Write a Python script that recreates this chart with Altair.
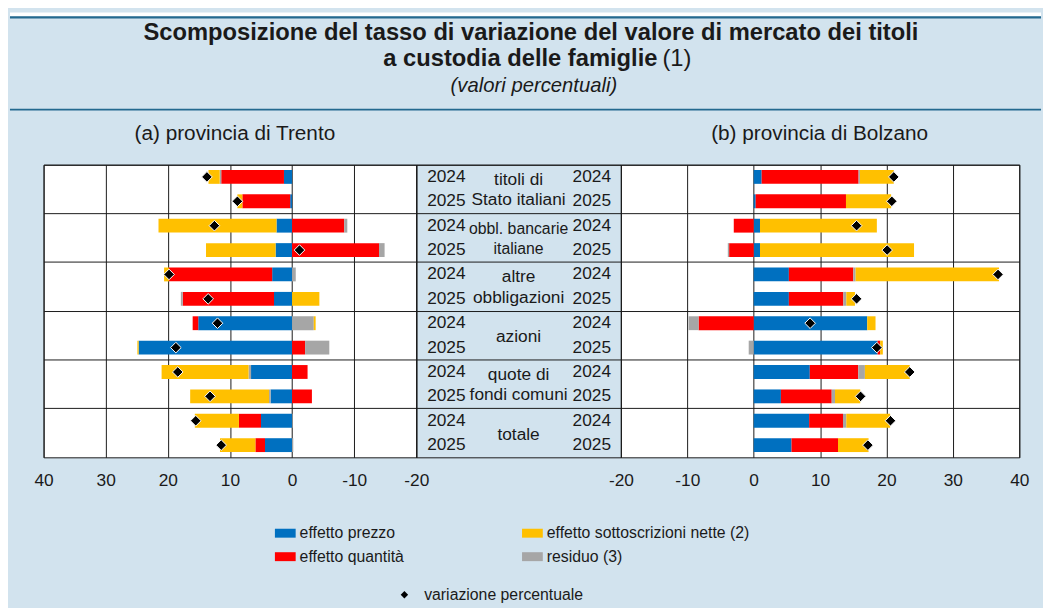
import altair as alt
import pandas as pd

# ---------------- data ----------------
groups = ["titoli di Stato italiani", "obbl. bancarie italiane", "altre obbligazioni",
          "azioni", "quote di fondi comuni", "totale"]
label_line1 = ["titoli di", "obbl. bancarie", "altre", "azioni", "quote di", "totale"]
label_line2 = ["Stato italiani", "italiane", "obbligazioni", "", "fondi comuni", ""]
group_font = [17.5, 16, 17.5, 17.5, 17.5, 17.5]
years = ["2024", "2025"]

# stacking order (from zero outwards)
stack_components = ["effetto prezzo", "effetto quantità", "residuo (3)", "effetto sottoscrizioni nette (2)"]
# legend order (2 columns, filled column-wise)
legend_domain = ["effetto prezzo", "effetto quantità", "effetto sottoscrizioni nette (2)", "residuo (3)"]
legend_colors = ["#0070c0", "#ff0000", "#ffc000", "#a6a6a6"]

# rows: group x year (2024, 2025)
trento_prezzo = [1.3, 0.3, 2.5, 2.65, 3.2, 2.9, 15.1, 24.7, 6.6, 3.45, 5.0, 4.35]
trento_quantita = [10.1, 7.7, -8.4, -14.0, 16.6, 14.7, 0.9, -2.1, -2.5, -3.2, 3.55, 1.55]
trento_residuo = [0.25, 0.0, -0.5, -0.9, -0.6, 0.3, -3.5, -3.9, 0.4, 0.25, -0.1, -0.2]
trento_sottoscrizioni = [1.8, 0.8, 19.0, 11.2, 0.8, -4.4, -0.3, 0.2, 14.0, 12.7, 7.1, 5.7]
trento_variazione = [13.7, 8.8, 12.5, -1.2, 19.8, 13.5, 12.0, 18.7, 18.4, 13.2, 15.5, 11.4]

bolzano_prezzo = [1.2, 0.3, 0.95, 0.95, 5.3, 5.3, 17.1, 18.65, 8.45, 4.1, 8.35, 5.7]
bolzano_quantita = [14.6, 13.6, -3.0, -3.7, 9.7, 8.2, -8.3, 0.4, 7.3, 7.65, 5.1, 7.0]
bolzano_residuo = [0.2, 0.0, 0.0, -0.2, 0.35, 0.45, -1.5, -0.75, 1.0, 0.5, 0.5, 0.0]
bolzano_sottoscrizioni = [5.1, 6.8, 17.6, 23.2, 21.6, 1.3, 1.25, 0.4, 6.75, 3.8, 6.6, 4.6]
bolzano_variazione = [21.1, 20.8, 15.5, 20.1, 36.8, 15.5, 8.5, 18.55, 23.5, 16.1, 20.6, 17.2]

x_ticks = [-20, -10, 0, 10, 20, 30, 40]

title_line1 = "Scomposizione del tasso di variazione del valore di mercato dei titoli"
title_line2_bold = "a custodia delle famiglie"
title_line2_note = "(1)"
title_line3 = "(valori percentuali)"
sub_a = "(a) provincia di Trento"
sub_b = "(b) provincia di Bolzano"
diamond_label = "variazione percentuale"

# ---------------- styling ----------------
FONT = "Liberation Sans"
TXT = "#1a1a1a"
BG = "#d2e3ee"
LINE_BLUE = "#23698f"
GRID = "#1a1a1a"

W_SPACER, W_LEFT, W_MID, W_RIGHT = 34, 377, 207, 403
H_BODY = 296
W_ALL = 1043
H_HEAD = 154


def long_bars(series_list):
    rows = []
    for i, g in enumerate(groups):
        for j, yr in enumerate(years):
            k = 2 * i + j
            for o, (comp, ser) in enumerate(zip(stack_components, series_list)):
                v = ser[k]
                if v != 0:
                    rows.append({"group": g, "year": yr, "comp": comp, "value": v, "ord": o})
    return pd.DataFrame(rows)


def points(var):
    rows = []
    for i, g in enumerate(groups):
        for j, yr in enumerate(years):
            rows.append({"group": g, "year": yr, "var": var[2 * i + j], "lbl": diamond_label})
    return pd.DataFrame(rows)


y_enc = alt.Y("group:N", sort=groups, title=None,
              scale=alt.Scale(domain=groups, paddingInner=0, paddingOuter=0),
              axis=alt.Axis(grid=True, gridColor=GRID, gridWidth=1, labels=False, ticks=False,
                            domain=False, bandPosition=0, title=None))
yoff_enc = alt.YOffset("year:N", sort=years,
                       scale=alt.Scale(domain=years, paddingInner=0.432, paddingOuter=0.216))

color_enc = alt.Color("comp:N",
                      scale=alt.Scale(domain=legend_domain, range=legend_colors),
                      legend=alt.Legend(title=None, orient="none", legendX=268, legendY=516,
                                        values=legend_domain,
                                        columns=2, columnPadding=119, rowPadding=5,
                                        symbolType="M-1,-0.43H1V0.43H-1Z", symbolSize=441,
                                        symbolStrokeWidth=0, labelFontSize=16, labelFont=FONT,
                                        labelColor=TXT, labelOffset=4, labelLimit=400))
shape_enc = alt.Shape("lbl:N", scale=alt.Scale(domain=[diamond_label], range=["diamond"]),
                      legend=alt.Legend(title=None, orient="none", legendX=391, legendY=581,
                                        symbolSize=56, symbolFillColor="black",
                                        symbolStrokeColor="black", symbolStrokeWidth=0,
                                        labelFontSize=16, labelFont=FONT, labelColor=TXT,
                                        labelOffset=12, labelLimit=400))


def panel(series_list, var, reverse, width):
    xscale = alt.Scale(domain=[-20, 40], reverse=reverse, nice=False, zero=False)
    xaxis = alt.Axis(values=x_ticks, grid=True, gridColor=GRID, gridWidth=1, ticks=False,
                     domain=False, labelFontSize=17.5, labelFont=FONT, labelColor=TXT,
                     labelPadding=14, labelFlush=False, labelOverlap=False, labelBound=False,
                     labelExpr="'' + datum.value", title=None)
    bars = alt.Chart(long_bars(series_list)).mark_bar(opacity=1).encode(
        y=y_enc, yOffset=yoff_enc,
        x=alt.X("value:Q", stack="zero", scale=xscale, axis=xaxis, title=None),
        color=color_enc,
        order=alt.Order("ord:Q"),
    )
    dia = alt.Chart(points(var)).mark_point(filled=True, opacity=1, size=115, color="black",
                                            stroke="white", strokeWidth=1).encode(
        y=y_enc, yOffset=yoff_enc,
        x=alt.X("var:Q", scale=xscale, axis=xaxis, title=None),
        shape=shape_enc,
    )
    return alt.layer(bars, dia).properties(
        width=width, height=H_BODY, view=alt.ViewBackground(fill="white", stroke=GRID))


left = panel([trento_prezzo, trento_quantita, trento_residuo, trento_sottoscrizioni],
             trento_variazione, True, W_LEFT)
right = panel([bolzano_prezzo, bolzano_quantita, bolzano_residuo, bolzano_sottoscrizioni],
              bolzano_variazione, False, W_RIGHT)

# ---------- middle label column ----------
yr_df = pd.DataFrame([{"group": g, "year": yr} for g in groups for yr in years])
l1_rows, l2_rows, one_rows = [], [], []
for g, l1, l2, fs in zip(groups, label_line1, label_line2, group_font):
    if l2:
        l1_rows.append({"group": g, "year": years[0], "label": l1, "fs": fs})
        l2_rows.append({"group": g, "year": years[1], "label": l2, "fs": fs})
    else:
        one_rows.append({"group": g, "label": l1, "fs": fs})


def mid_text(df, dy, with_offset):
    enc = dict(y=y_enc, text="label:N", size=alt.Size("fs:Q", scale=None), x=alt.value(103.5))
    if with_offset:
        enc["yOffset"] = yoff_enc
    return alt.Chart(pd.DataFrame(df)).mark_text(
        align="center", baseline="middle", font=FONT, color=TXT, dy=dy).encode(**enc)


years_left = alt.Chart(yr_df).mark_text(align="left", baseline="middle", font=FONT,
                                        fontSize=17.5, color=TXT).encode(
    y=y_enc, yOffset=yoff_enc, text="year:N", x=alt.value(11))
years_right = alt.Chart(yr_df).mark_text(align="right", baseline="middle", font=FONT,
                                         fontSize=17.5, color=TXT).encode(
    y=y_enc, yOffset=yoff_enc, text="year:N", x=alt.value(197))
mid = alt.layer(
    years_left, years_right,
    mid_text(l1_rows, 3, True),
    mid_text(l2_rows, -1, True),
    mid_text(one_rows, 2, False),
).properties(width=W_MID, height=H_BODY,
             view=alt.ViewBackground(fill="transparent", stroke=GRID))

one = pd.DataFrame({"k": [0]})
spacer = alt.Chart(one).mark_rect(opacity=0).encode(
    x=alt.value(5), x2=alt.value(10), y=alt.value(5), y2=alt.value(10)).properties(
    width=W_SPACER, height=H_BODY, view=alt.ViewBackground(stroke="transparent"))

# ---------- header ----------
white_strip = alt.Chart(one).mark_rect(color="white").encode(
    x=alt.value(0), x2=alt.value(W_ALL), y=alt.value(0), y2=alt.value(4))
rule_top = alt.Chart(one).mark_rule(color=LINE_BLUE, strokeWidth=2.2).encode(
    x=alt.value(0), x2=alt.value(W_ALL), y=alt.value(5))
rule_mid = alt.Chart(one).mark_rule(color=LINE_BLUE, strokeWidth=1.8).encode(
    x=alt.value(0), x2=alt.value(W_ALL), y=alt.value(98.3))


def txt(s, x, y, size, align="center", weight="normal", style="normal"):
    return alt.Chart(pd.DataFrame({"t": [s]})).mark_text(
        align=align, baseline="alphabetic", font=FONT, fontSize=size, fontWeight=weight,
        fontStyle=style, color=TXT).encode(text="t:N", x=alt.value(x), y=alt.value(y))


header = alt.layer(
    white_strip, rule_top, rule_mid,
    txt(title_line1, 527, 27.5, 24, weight="bold"),
    txt(title_line2_bold, 655, 54, 24, align="right", weight="bold"),
    txt(title_line2_note, 660, 54, 24, align="left"),
    txt(title_line3, 530, 80, 20.5, style="italic"),
    txt(sub_a, 227.5, 128.5, 21),
    txt(sub_b, 819, 128.5, 21),
).properties(width=W_ALL, height=H_HEAD, view=alt.ViewBackground(stroke="transparent"))

body = alt.hconcat(spacer, left, mid, right, spacing=0, bounds="flush")

chart = alt.vconcat(header, body, spacing=0, bounds="flush").properties(
    background=BG, padding={"left": 0, "top": 0, "right": 0, "bottom": 12}
).resolve_scale(x="independent").configure_view(stroke=GRID, strokeWidth=1).configure_text(font=FONT)

chart.save("out.html", embed_options={"renderer": "svg", "actions": False})
